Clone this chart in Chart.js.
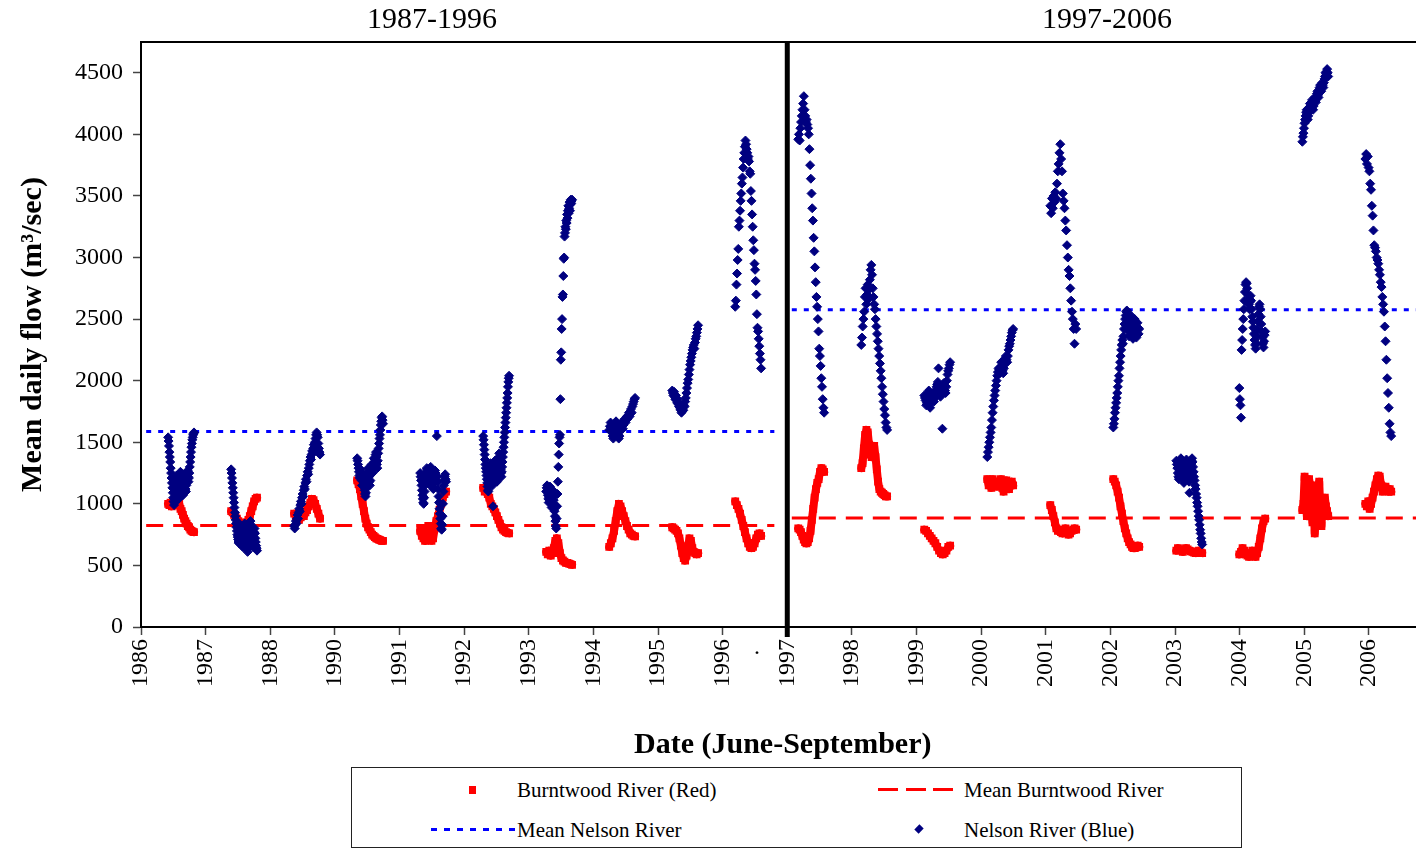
<!DOCTYPE html>
<html>
<head>
<meta charset="utf-8">
<title>Mean daily flow, Burntwood and Nelson rivers</title>
<script src="https://cdn.jsdelivr.net/npm/chart.js@4.4.1/dist/chart.umd.min.js"></script>
<style>
  html, body { margin: 0; padding: 0; background: #fff; overflow: hidden; }
  #page { position: relative; width: 1416px; height: 848px; overflow: hidden; background: #fff; }
  #chartWrap { position: absolute; left: 0; top: 0; width: 1430px; height: 848px; }
  .legend {
    position: absolute; left: 351px; top: 767px; width: 891px; height: 81px;
    border: 1px solid #222; box-sizing: border-box; background: #fff;
    font-family: 'Liberation Serif', 'Times New Roman', serif; font-size: 21px; color: #000;
  }
  .legend .txt { position: absolute; line-height: 20px; white-space: nowrap; }
  .legend .sq { position: absolute; left: 117px; top: 18px; width: 7px; height: 8px; background: #ff0000; }
  .legend .dash {
    position: absolute; left: 526px; top: 20px; width: 75px; height: 3px;
    background: repeating-linear-gradient(90deg, #ff0000 0 20px, transparent 20px 27.5px);
  }
  .legend .dots {
    position: absolute; left: 79px; top: 60px; width: 84px; height: 3px;
    background: repeating-linear-gradient(90deg, #0000ff 0 6px, transparent 6px 13px);
  }
  .legend .dia {
    position: absolute; left: 564px; top: 58px; width: 6px; height: 6px; background: #000080;
    transform: rotate(45deg) scaleY(1.2);
  }
</style>
</head>
<body>
<div id="page">
  <div id="chartWrap"><canvas id="flow" width="1430" height="848"></canvas></div>
  <div class="legend">
    <div class="sq"></div>
    <div class="txt" style="left:165px; top:12px;">Burntwood River (Red)</div>
    <div class="dash"></div>
    <div class="txt" style="left:612px; top:12px;">Mean Burntwood River</div>
    <div class="dots"></div>
    <div class="txt" style="left:165px; top:52px;">Mean Nelson River</div>
    <div class="dia"></div>
    <div class="txt" style="left:612px; top:52px;">Nelson River (Blue)</div>
  </div>
</div>
<script>
// Summer seasons (June-September) shown, one block of daily values each
const seasons = ['1987','1988','1989','1990','1991','1992','1993','1994','1995','1996',
                 '1997','1998','1999','2000','2001','2002','2003','2004','2005','2006'];

// Labels printed under the x-axis ticks
const xTickLabels = ['1986','1987','1988','1990','1991','1992','1993','1994','1995','1996',
                     '1997','1998','1999','2000','2001','2002','2003','2004','2005','2006'];

const yTickValues = [0, 500, 1000, 1500, 2000, 2500, 3000, 3500, 4000, 4500];

const periodTitles = ['1987-1996', '1997-2006'];

// Period means (m3/sec): [1987-1996, 1997-2006]
const meanBurntwood = [825, 885];
const meanNelson = [1587, 2575];

// Nelson River daily flow, June-September, one list per season (m3/sec)
const nelsonDaily = [
  [1540,1510,1470,1420,1380,1340,1290,1250,1210,1170,1130,1090,1050,1020,990,1010,1060,1110,1150,1200,1230,1180,1140,1100,1060,1040,1120,1170,1210,1260,1230,1190,1150,1120,1080,1070,1130,1190,1240,1200,1160,1120,1100,1150,1200,1250,1270,1220,1180,1210,1250,1300,1340,1380,1420,1460,1490,1520,1540,1560,1570,1580],
  [1280,1250,1210,1170,1130,1090,1050,1010,970,930,900,870,840,810,780,750,730,710,690,680,720,760,800,830,790,750,710,670,650,690,730,770,810,840,820,780,740,700,660,630,610,640,680,720,760,800,840,860,820,780,740,700,670,650,690,730,770,800,760,720,690,660,640,620],
  [820,800,830,860,840,880,910,880,930,960,940,990,1020,1000,1050,1080,1060,1110,1140,1120,1170,1200,1180,1230,1260,1240,1290,1320,1350,1380,1360,1400,1430,1410,1450,1480,1460,1500,1530,1560,1580,1560,1540,1490,1450,1420,1400],
  [1370,1350,1320,1290,1260,1230,1210,1250,1280,1230,1190,1150,1200,1250,1220,1180,1140,1110,1080,1060,1090,1130,1170,1210,1250,1290,1260,1220,1180,1150,1190,1240,1280,1320,1290,1250,1280,1330,1370,1340,1300,1360,1400,1420,1380,1320,1290,1350,1410,1450,1490,1530,1560,1600,1640,1670,1700,1710,1680,1650],
  [1250,1220,1190,1150,1110,1070,1040,1010,1000,1050,1100,1150,1190,1230,1260,1290,1280,1250,1220,1190,1160,1200,1240,1280,1300,1270,1240,1210,1180,1140,1120,1170,1210,1250,1270,1250,1220,1190,1550,1220,1180,1120,1060,1010,960,920,880,840,800,790,830,900,1000,1100,1150,1190,1220,1240,1200,1180],
  [1550,1520,1480,1440,1400,1360,1320,1290,1260,1230,1200,1170,1140,1110,1100,1140,1180,1220,1260,1300,1330,1300,1270,1240,1210,1180,1150,980,1200,1240,1280,1320,1350,1320,1290,1260,1230,1200,1180,1220,1260,1300,1340,1380,1410,1380,1350,1310,1280,1250,1220,1260,1300,1340,1380,1420,1460,1500,1540,1580,1620,1660,1700,1740,1780,1820,1860,1900,1950,1990,2020,2040],
  [1100,1130,1150,1110,1070,1040,1010,1050,1100,1140,1090,1050,1000,970,1010,1060,1110,1080,1030,980,940,900,860,820,800,880,980,1080,1180,1300,1400,1490,1540,1560,1850,2170,2230,2420,2500,2680,2700,2850,2990,3000,3170,3200,3250,3230,3300,3280,3350,3320,3380,3420,3360,3400,3450,3380,3430,3470,3440,3460,3470],
  [1600,1630,1660,1620,1580,1550,1530,1560,1600,1640,1670,1640,1600,1560,1530,1550,1590,1630,1660,1640,1610,1640,1670,1690,1660,1680,1710,1690,1720,1740,1710,1750,1770,1740,1790,1810,1830,1850,1860],
  [1920,1900,1880,1910,1870,1850,1880,1840,1820,1850,1810,1790,1800,1770,1760,1740,1750,1780,1760,1800,1790,1830,1860,1900,1940,1980,2010,2050,2090,2130,2160,2190,2220,2250,2270,2290,2260,2310,2340,2360,2390,2420,2450],
  [2600,2650,2780,2870,2980,3070,3250,3300,3380,3460,3520,3600,3650,3730,3800,3850,3900,3950,3920,3880,3850,3800,3820,3780,3700,3680,3540,3460,3350,3250,3140,3060,2950,2900,2810,2700,2540,2430,2400,2340,2280,2220,2170,2100],
  [3960,4000,3950,4050,4100,4150,4200,4250,4310,4200,4150,4100,4120,4080,4050,4000,3880,3750,3640,3520,3400,3300,3160,3050,2920,2800,2680,2600,2500,2400,2260,2200,2120,2020,1950,1850,1780,1740],
  [2290,2350,2440,2500,2560,2680,2750,2620,2700,2780,2660,2740,2820,2900,2940,2860,2750,2680,2620,2580,2500,2440,2380,2320,2260,2200,2140,2080,2020,1950,1890,1830,1770,1720,1660,1620,1600],
  [1880,1860,1840,1800,1820,1860,1900,1920,1870,1780,1820,1850,1880,1900,1860,1830,1860,1880,1920,1950,1970,1990,2100,1940,1920,1870,1900,1930,1610,1960,1980,1950,1920,1900,1950,2000,2050,2080,2100,2130,2150],
  [1380,1420,1460,1500,1540,1580,1620,1680,1740,1790,1840,1880,1920,1960,2000,2040,2070,2100,2090,2060,2110,2150,2120,2080,2060,2100,2140,2180,2200,2170,2150,2200,2250,2280,2300,2330,2360,2390,2410,2420],
  [3420,3360,3480,3400,3500,3450,3530,3480,3600,3700,3760,3850,3920,3800,3700,3520,3460,3400,3300,3220,3100,3000,2900,2850,2750,2650,2560,2500,2420,2300,2460,2420],
  [1620,1650,1690,1740,1780,1820,1860,1900,1950,2000,2040,2100,2150,2200,2250,2290,2330,2300,2360,2420,2460,2500,2530,2560,2570,2520,2460,2400,2360,2420,2480,2530,2500,2440,2380,2340,2400,2460,2500,2450,2390,2350,2420,2470,2430,2380,2420],
  [1350,1320,1290,1250,1220,1200,1240,1290,1330,1370,1340,1300,1260,1230,1200,1170,1210,1260,1300,1340,1360,1330,1290,1250,1210,1180,1090,1230,1280,1320,1350,1370,1340,1300,1260,1220,1190,1150,1120,1080,1050,1010,980,940,900,870,830,790,760,720,690,670],
  [1940,1850,1800,1700,2250,2330,2420,2500,2580,2650,2720,2780,2800,2790,2750,2700,2660,2620,2580,2640,2690,2650,2580,2520,2480,2430,2380,2330,2290,2260,2300,2360,2420,2480,2540,2600,2620,2580,2520,2460,2400,2350,2300,2270,2320,2370,2400],
  [3940,3980,4010,4050,4090,4120,4150,4180,4200,4170,4120,4150,4180,4220,4250,4230,4200,4240,4280,4250,4200,4230,4270,4300,4280,4260,4300,4330,4350,4320,4300,4340,4380,4400,4370,4350,4390,4420,4400,4380,4420,4450,4470,4500,4480,4510,4530,4500,4470],
  [3800,3840,3760,3820,3730,3700,3600,3550,3420,3340,3220,3100,3080,3050,3000,2980,2950,2900,2860,2800,2760,2680,2620,2560,2440,2320,2170,2020,1900,1780,1650,1580,1550]
];

// Burntwood River daily flow, June-September, one list per season (m3/sec)
const burntwoodDaily = [
  [1000,990,1010,980,1000,1020,990,1000,1040,1000,960,940,910,880,860,840,820,810,790,780,775,770],
  [940,930,910,900,880,860,850,840,830,820,830,850,870,900,940,980,1020,1040,1050],
  [920,900,880,870,890,910,900,930,950,980,1010,1040,1030,1000,960,920,880],
  [1190,1160,1120,1060,1000,940,880,840,810,790,770,750,740,730,720,715,710,705,700,700],
  [780,740,720,700,760,820,750,700,720,800,860,900,950,1000,1050,1080,1100],
  [1130,1100,1120,1080,1050,1000,980,960,930,900,870,840,810,790,780,770,765,760],
  [610,590,620,580,600,640,700,720,680,600,560,540,530,520,520,515,510,505],
  [650,680,720,780,860,940,1000,980,940,900,860,820,790,760,750,740,735],
  [810,800,790,780,760,720,660,600,560,540,580,650,720,700,640,610,600,590,600],
  [1020,990,960,920,870,820,770,720,680,650,640,650,680,720,750,760,740],
  [800,790,770,740,710,690,680,690,720,780,870,960,1050,1120,1170,1200,1260,1290,1280,1260],
  [1290,1330,1450,1560,1600,1580,1480,1400,1380,1450,1470,1380,1280,1180,1120,1100,1090,1080,1070,1060,1060],
  [790,780,760,740,720,700,680,650,620,600,590,600,620,650,660],
  [1200,1150,1180,1130,1200,1170,1150,1140,1180,1150,1200,1130,1100,1150,1190,1160,1120,1150,1180,1150],
  [990,950,900,850,800,780,790,770,760,780,800,770,750,760,780,790,800,790],
  [1200,1180,1150,1100,1050,980,920,860,800,760,720,690,670,650,640,640,650,660,650],
  [620,640,630,620,610,625,640,630,620,615,610,605,600,610,620,605,600],
  [590,610,640,620,590,580,570,600,620,580,570,600,650,720,800,860,880],
  [950,1000,1220,1100,900,1050,1200,1150,980,850,1000,760,900,1150,1050,1180,950,820,1000,900,1050,980,940,900],
  [1000,980,1020,960,1000,1050,1100,1150,1200,1230,1220,1150,1100,1120,1140,1110,1100,1120,1100]
];

// Horizontal placement along the date axis (in tick-interval units)
const SEASON_ORIGIN = 0.42;   // first season starts here
const SEASON_STEP = 0.975;    // distance between consecutive seasons
const SEASON_SPAN = 0.40;     // June 1 .. September 30
const PERIOD_SPLIT = 10;      // the 1997 tick separates the two periods
const X_MAX = 19.86;
const MEAN_EXTENT = [[0.08, 9.8], [10.07, X_MAX]];

function seasonPoints(values, k) {
  const n = values.length;
  const x0 = SEASON_ORIGIN + k * SEASON_STEP;
  return values.map((v, i) => ({ x: x0 + SEASON_SPAN * i / (n - 1), y: v }));
}

const nelsonPoints = nelsonDaily.flatMap((vals, k) => seasonPoints(vals, k));

// Burntwood seasons are joined into one stroke each, broken between seasons
const burntwoodPoints = [];
burntwoodDaily.forEach((vals, k) => {
  if (k > 0) burntwoodPoints.push({ x: SEASON_ORIGIN + k * SEASON_STEP - 0.2, y: null });
  burntwoodPoints.push(...seasonPoints(vals, k));
});

function meanPoints(means) {
  return [
    { x: MEAN_EXTENT[0][0], y: means[0] }, { x: MEAN_EXTENT[0][1], y: means[0] },
    { x: (MEAN_EXTENT[0][1] + MEAN_EXTENT[1][0]) / 2, y: null },
    { x: MEAN_EXTENT[1][0], y: means[1] }, { x: MEAN_EXTENT[1][1], y: means[1] }
  ];
}

const SERIF = "'Liberation Serif', 'Times New Roman', serif";
Chart.defaults.font.family = SERIF;
Chart.defaults.color = '#000';

// Plot frame, period divider and period headings
const framePlugin = {
  id: 'frame',
  afterDatasetsDraw(chart) {
    const { ctx, chartArea: a, scales: { x } } = chart;
    ctx.save();
    ctx.strokeStyle = '#000';
    ctx.lineWidth = 2;
    ctx.beginPath();
    ctx.moveTo(a.left - 1, a.top);
    ctx.lineTo(a.right, a.top);
    ctx.stroke();

    const xd = x.getPixelForValue(PERIOD_SPLIT);
    ctx.lineWidth = 5;
    ctx.beginPath();
    ctx.moveTo(xd, a.top - 1);
    ctx.lineTo(xd, a.bottom + 10);
    ctx.stroke();

    ctx.fillStyle = '#000';
    ctx.font = '30px ' + SERIF;
    ctx.textAlign = 'center';
    ctx.textBaseline = 'middle';
    ctx.fillText(periodTitles[0], 432, 20);
    ctx.fillText(periodTitles[1], 1107, 20);

    ctx.font = '24px ' + SERIF;
    ctx.fillText('.', x.getPixelForValue(9.53), 648);
    ctx.restore();
  }
};

new Chart(document.getElementById('flow'), {
  type: 'scatter',
  data: {
    datasets: [
      {
        label: 'Nelson River (Blue)',
        data: nelsonPoints,
        order: 0,
        pointStyle: 'rectRot',
        pointRadius: 4.5,
        pointBackgroundColor: '#000080',
        pointBorderColor: '#000080',
        pointBorderWidth: 1,
        showLine: false
      },
      {
        label: 'Mean Nelson River',
        type: 'line',
        data: meanPoints(meanNelson),
        order: 1,
        borderColor: '#0000ff',
        borderWidth: 3,
        borderDash: [5, 7],
        pointRadius: 0,
        spanGaps: false,
        fill: false
      },
      {
        label: 'Mean Burntwood River',
        type: 'line',
        data: meanPoints(meanBurntwood),
        order: 2,
        borderColor: '#ff0000',
        borderWidth: 3,
        borderDash: [17, 10],
        pointRadius: 0,
        spanGaps: false,
        fill: false
      },
      {
        label: 'Burntwood River (Red)',
        type: 'line',
        data: burntwoodPoints,
        order: 3,
        borderColor: '#ff0000',
        borderWidth: 8,
        borderJoinStyle: 'round',
        borderCapStyle: 'round',
        pointStyle: 'rect',
        pointRadius: 5.5,
        pointBackgroundColor: '#ff0000',
        pointBorderColor: '#ff0000',
        pointBorderWidth: 0,
        spanGaps: false,
        tension: 0,
        fill: false
      }
    ]
  },
  options: {
    responsive: false,
    animation: false,
    devicePixelRatio: 1,
    layout: { padding: { top: 42, right: 0, bottom: 0, left: 0 } },
    plugins: { legend: { display: false }, tooltip: { enabled: false } },
    scales: {
      x: {
        type: 'linear',
        min: 0,
        max: X_MAX,
        afterFit: (s) => { s.height = 221; },
        afterBuildTicks: (s) => { s.ticks = xTickLabels.map((_, i) => ({ value: i })); },
        ticks: {
          autoSkip: false,
          minRotation: 90,
          maxRotation: 90,
          padding: 4,
          font: { size: 24 },
          color: '#000',
          callback: (v) => xTickLabels[Math.round(v)]
        },
        grid: { drawOnChartArea: false, drawTicks: true, tickLength: 8, tickColor: '#444', tickWidth: 1.5 },
        border: { display: true, color: '#000', width: 2 },
        title: {
          display: true,
          text: 'Date (June-September)',
          font: { size: 30, weight: 'bold' },
          color: '#000',
          padding: { top: 0, bottom: 85 }
        }
      },
      y: {
        type: 'linear',
        min: 0,
        max: 4750,
        afterFit: (s) => { s.width = 141; },
        afterBuildTicks: (s) => { s.ticks = yTickValues.map(v => ({ value: v })); },
        ticks: { padding: 10, font: { size: 24 }, color: '#000', callback: (v) => String(v) },
        grid: { drawOnChartArea: false, drawTicks: true, tickLength: 8, tickColor: '#444', tickWidth: 1.5 },
        border: { display: true, color: '#000', width: 2 },
        title: {
          display: true,
          text: 'Mean daily flow (m³/sec)',
          font: { size: 30, weight: 'bold' },
          color: '#000',
          padding: { top: 15, bottom: 0 }
        }
      }
    }
  },
  plugins: [framePlugin]
});
</script>
</body>
</html>
